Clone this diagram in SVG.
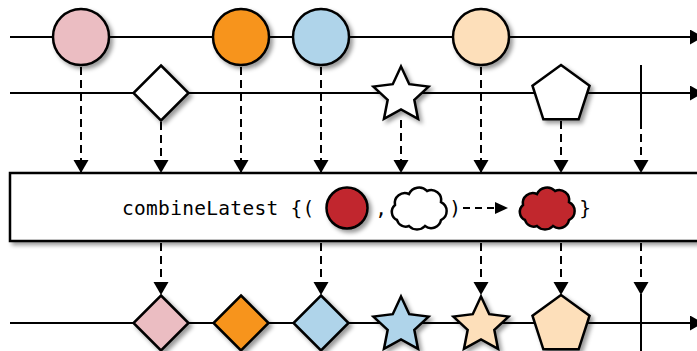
<svg xmlns="http://www.w3.org/2000/svg" xmlns:xlink="http://www.w3.org/1999/xlink" width="697" height="351" viewBox="0 0 697 351">
<style>
.line{stroke:#000;stroke-width:2;fill:none}
.dash{stroke:#000;stroke-width:2;fill:none;stroke-dasharray:8 5}
.shape{stroke:#000;stroke-width:2.5;stroke-linejoin:miter}
.sh{filter:url(#shadow)}
.pink{fill:#EBBDC2}
.orange{fill:#F7941E}
.blue{fill:#AFD4EA}
.peach{fill:#FDDFBA}
.white{fill:#fff}
.red{fill:#C1272D}
.mono{font-family:"DejaVu Sans Mono","Liberation Mono",monospace;font-size:19.5px;fill:#000}
</style>
<defs>
<filter id="shadow" x="-30%" y="-30%" width="170%" height="170%">
<feDropShadow dx="3" dy="3" stdDeviation="2.2" flood-color="#000" flood-opacity="0.4"/>
</filter>
<marker id="ah" markerUnits="userSpaceOnUse" markerWidth="16" markerHeight="16" refX="13" refY="7.5" orient="auto">
<path d="M0,0 L13,7.5 L0,15 Z" fill="#000"/>
</marker>
<marker id="ahs" markerUnits="userSpaceOnUse" markerWidth="14" markerHeight="14" refX="13" refY="6" orient="auto">
<path d="M0,0 L13,6 L0,12 Z" fill="#000"/>
</marker>
<polygon id="star" points="0,-29 8.23,-11.33 27.58,-8.96 13.31,4.33 17.05,23.46 0,14 -17.05,23.46 -13.31,4.33 -27.58,-8.96 -8.23,-11.33"/>
<polygon id="penta" points="0,-30 28.53,-9.27 17.63,24.27 -17.63,24.27 -28.53,-9.27"/>
<polygon id="diamond" points="0,-27.5 27.5,0 0,27.5 -27.5,0"/>
<path id="cloud" d="M-22,12 A9,9 0 0 1 -24,-3 A10,10 0 0 1 -10,-14 A11,11 0 0 1 8,-17 A10,10 0 0 1 22,-6 A10,10 0 0 1 22,12 A10,10 0 0 1 6,18 A11,11 0 0 1 -10,18 A9,9 0 0 1 -22,12 Z"/>
</defs>

<g id="timelines">
<line class="line" x1="10" y1="37" x2="703" y2="37" marker-end="url(#ah)"/>
<line class="line" x1="10" y1="93" x2="703" y2="93" marker-end="url(#ah)"/>
<line class="line" x1="10" y1="323" x2="703" y2="323" marker-end="url(#ah)"/>
</g>

<g id="connectors">
<line class="dash" x1="81" y1="67" x2="81" y2="173" marker-end="url(#ah)"/>
<line class="dash" x1="161" y1="122" x2="161" y2="173" marker-end="url(#ah)"/>
<line class="dash" x1="241" y1="67" x2="241" y2="173" marker-end="url(#ah)"/>
<line class="dash" x1="321" y1="67" x2="321" y2="173" marker-end="url(#ah)"/>
<line class="dash" x1="401" y1="120" x2="401" y2="173" marker-end="url(#ah)"/>
<line class="dash" x1="481" y1="67" x2="481" y2="173" marker-end="url(#ah)"/>
<line class="dash" x1="561" y1="121" x2="561" y2="173" marker-end="url(#ah)"/>
<line class="dash" x1="641" y1="121" x2="641" y2="173" marker-end="url(#ah)"/>
<line class="dash" x1="161" y1="243" x2="161" y2="295" marker-end="url(#ah)"/>
<line class="dash" x1="321" y1="243" x2="321" y2="295" marker-end="url(#ah)"/>
<line class="dash" x1="481" y1="243" x2="481" y2="295" marker-end="url(#ah)"/>
<line class="dash" x1="561" y1="243" x2="561" y2="295" marker-end="url(#ah)"/>
<line class="dash" x1="641" y1="243" x2="641" y2="295" marker-end="url(#ah)"/>
</g>

<g id="operator">
<rect class="sh" x="10" y="173" width="700" height="68" fill="#fff" stroke="#000" stroke-width="2.5"/>
<text class="mono" x="122" y="215" letter-spacing="0.3">combineLatest {(</text>
<circle class="shape red sh" cx="347" cy="208" r="20.5"/>
<text class="mono" x="381" y="215" text-anchor="middle">,</text>
<use xlink:href="#cloud" class="shape white" transform="translate(419,208)"/>
<text class="mono" x="455" y="215" text-anchor="middle">)</text>
<line class="line" x1="463" y1="208" x2="508" y2="208" stroke-dasharray="7 5" marker-end="url(#ahs)"/>
<use xlink:href="#cloud" class="shape red" transform="translate(547,208)"/>
<text class="mono" x="585" y="215" text-anchor="middle">}</text>
</g>

<g id="input-a">
<circle id="a1" class="shape pink sh" cx="81" cy="37" r="28"/>
<circle id="a2" class="shape orange sh" cx="241" cy="37" r="28"/>
<circle id="a3" class="shape blue sh" cx="321" cy="37" r="28"/>
<circle id="a4" class="shape peach sh" cx="481" cy="37" r="28"/>
</g>

<g id="input-b">
<use id="b1" xlink:href="#diamond" class="shape white sh" transform="translate(161,93)"/>
<use id="b2" xlink:href="#star" class="shape white sh" transform="translate(401,95.5)"/>
<use id="b3" xlink:href="#penta" class="shape white sh" transform="translate(561,95)"/>
<line id="b-complete" class="line" x1="641" y1="65" x2="641" y2="122"/>
</g>

<g id="output">
<use id="o1" xlink:href="#diamond" class="shape pink sh" transform="translate(161,323)"/>
<use id="o2" xlink:href="#diamond" class="shape orange sh" transform="translate(241,323)"/>
<use id="o3" xlink:href="#diamond" class="shape blue sh" transform="translate(321,323)"/>
<use id="o4" xlink:href="#star" class="shape blue sh" transform="translate(401,325.5)"/>
<use id="o5" xlink:href="#star" class="shape peach sh" transform="translate(481,325.5)"/>
<use id="o6" xlink:href="#penta" class="shape peach sh" transform="translate(561,325)"/>
<line id="o-complete" class="line" x1="641" y1="294" x2="641" y2="351"/>
</g>
</svg>
